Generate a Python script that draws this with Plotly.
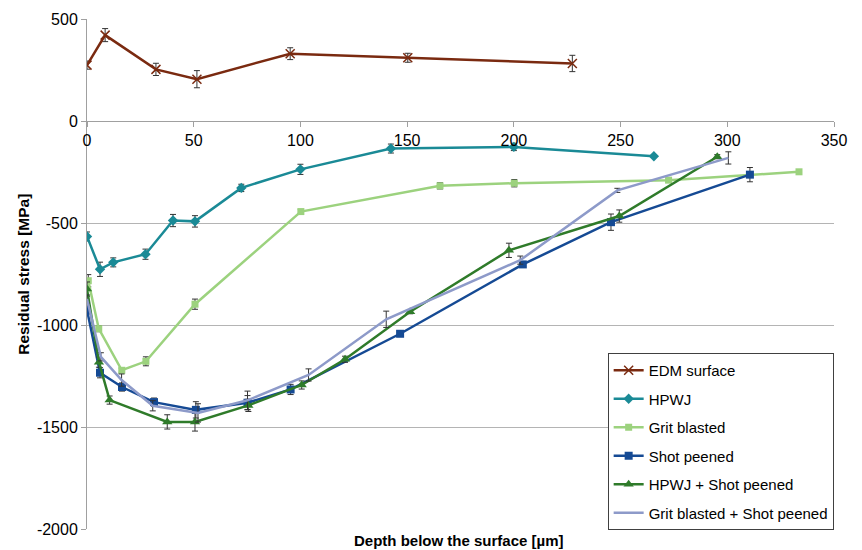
import plotly.graph_objects as go

# ---- data ----
edm_x = [0, 8.5, 32.3, 51.5, 95.2, 150.3, 227.4]
edm_y = [274, 421, 253, 205, 330, 310, 282]
edm_e = [20, 32, 30, 42, 29, 22, 40]

hpwj_x = [0, 6.1, 12.3, 27.4, 40.3, 50.6, 72.3, 100, 142.4, 200, 265.6]
hpwj_y = [-566, -727, -693, -653, -488, -492, -328, -237, -135, -127, -173]
hpwj_e = [22, 35, 22, 25, 30, 28, 18, 25, 22, 18, 0]

grit_x = [0.6, 5.5, 16.3, 27.6, 50.6, 100.2, 165.4, 200.2, 272.5, 333.6]
grit_y = [-783, -1018, -1222, -1178, -898, -444, -318, -305, -290, -249]
grit_e = [30, 15, 10, 22, 25, 10, 15, 18, 10, 8]

shot_x = [0, 6.1, 16.4, 31.4, 51, 75.2, 95.4, 146.7, 204.2, 245.5, 310.6]
shot_y = [-926, -1234, -1304, -1378, -1416, -1381, -1316, -1043, -703, -496, -263]
shot_e = [20, 25, 20, 20, 40, 35, 25, 10, 10, 40, 35]

hs_x = [0, 5.6, 10.6, 37.6, 50.6, 75.6, 100.6, 120.9, 151.4, 197.7, 249.4, 295.3]
hs_y = [-824, -1182, -1368, -1475, -1475, -1394, -1294, -1168, -935, -634, -466, -175]
hs_e = [35, 25, 20, 35, 45, 30, 20, 15, 10, 35, 30, 10]

gs_x = [0, 6.5, 16.2, 30.8, 52, 75.2, 103.8, 140.2, 203, 248.5, 300.5]
gs_y = [-873, -1156, -1270, -1396, -1431, -1369, -1245, -972, -682, -340, -181]
gs_e = [20, 20, 30, 25, 45, 45, 30, 40, 20, 10, 30]

x_ticks = [0, 50, 100, 150, 200, 250, 300, 350]
y_ticks = [500, 0, -500, -1000, -1500, -2000]
y_tick_text = ["500", "0", "-500", "-1000", "-1500", "-2000"]

series = [
    ("EDM surface", edm_x, edm_y, edm_e, "#7A2A10", dict(symbol="x-thin-open", size=9, line=dict(color="#C89078", width=1.5))),
    ("HPWJ", hpwj_x, hpwj_y, hpwj_e, "#1A8A96", dict(symbol="diamond", size=8, color="#1A8A96")),
    ("Grit blasted", grit_x, grit_y, grit_e, "#9CD27E", dict(symbol="square", size=7, color="#9CD27E")),
    ("Shot peened", shot_x, shot_y, shot_e, "#154A94", dict(symbol="square", size=8, color="#154A94")),
    ("HPWJ + Shot peened", hs_x, hs_y, hs_e, "#2F7B2A", dict(symbol="triangle-up", size=9, color="#2F7B2A")),
    ("Grit blasted + Shot peened", gs_x, gs_y, gs_e, "#8D9AC9", None),
]

fig = go.Figure()
for i, (name, xs, ys, es, col, mk) in enumerate(series):
    fig.add_trace(go.Scatter(
        x=xs, y=ys, name=name,
        mode="lines+markers" if mk else "lines",
        line=dict(color=col, width=2.5),
        marker=mk,
        legendgroup="g%d" % i,
        error_y=dict(type="data", array=es, visible=True, color="#333333", thickness=1, width=3),
    ))

fig.update_layout(
    width=862, height=550,
    margin=dict(l=87, r=28, t=19, b=21),
    plot_bgcolor="white", paper_bgcolor="white",
    font=dict(family="Liberation Sans, Arial, sans-serif", size=16, color="black"),
    showlegend=True,
    legend=dict(
        x=0.697, y=0.345, xanchor="left", yanchor="top",
        bgcolor="white", bordercolor="#404040", borderwidth=1,
        font=dict(size=15, color="black"),
        tracegroupgap=6, itemwidth=30,
    ),
    xaxis=dict(
        range=[0, 350], tickvals=x_ticks, anchor="free", position=0.8,
        showgrid=False, showline=True, linecolor="#A0A0A0", linewidth=1,
        ticks="outside", ticklen=5, tickcolor="#A0A0A0", zeroline=False,
        tickfont=dict(size=16),
    ),
    yaxis=dict(
        range=[-2000, 500], tickvals=y_ticks, ticktext=y_tick_text,
        showgrid=True, gridcolor="#B4B4B4", gridwidth=1,
        showline=True, linecolor="#A0A0A0", linewidth=1,
        ticks="outside", ticklen=5, tickcolor="#A0A0A0",
        zeroline=True, zerolinecolor="#A0A0A0", zerolinewidth=1,
        tickfont=dict(size=16),
    ),
    annotations=[
        dict(text="<b>Depth below the surface [µm]</b>", xref="paper", yref="paper",
             x=0.498, y=-0.0235, xanchor="center", yanchor="middle", showarrow=False,
             font=dict(size=15, color="black")),
        dict(text="<b>Residual stress [MPa]</b>", xref="paper", yref="paper",
             x=-0.086, y=0.5, xanchor="center", yanchor="middle", textangle=-90,
             showarrow=False, font=dict(size=15.5, color="black")),
    ],
)

fig.write_html("out.html")
